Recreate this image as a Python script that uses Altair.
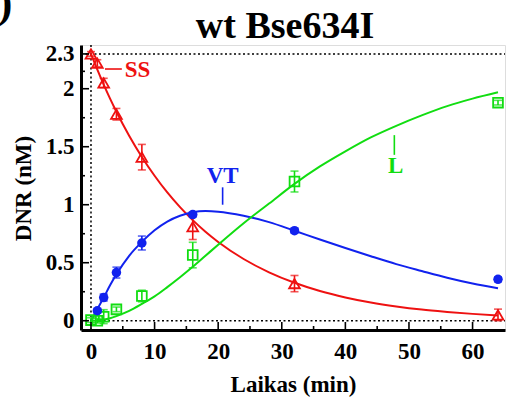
import altair as alt
import pandas as pd

# ---- data ----
curve_t = [0, 1, 2, 3, 4, 6, 8, 10, 12, 14, 16, 18, 20, 24, 28, 32, 36, 40, 44, 48, 52, 56, 60, 64]
ss_curve = [2.3, 2.164, 2.036, 1.915, 1.802, 1.595, 1.412, 1.25, 1.106, 0.979, 0.867, 0.767, 0.679,
            0.532, 0.417, 0.327, 0.256, 0.201, 0.157, 0.123, 0.096, 0.076, 0.059, 0.046]
vt_curve = [0.0, 0.1, 0.2, 0.305, 0.4, 0.56, 0.68, 0.78, 0.855, 0.905, 0.935, 0.945, 0.94,
            0.905, 0.85, 0.776, 0.70, 0.627, 0.556, 0.488, 0.428, 0.37, 0.32, 0.279]
l_curve = [0.0, 0.003, 0.01, 0.022, 0.04, 0.085, 0.145, 0.21, 0.29, 0.375, 0.465, 0.56, 0.655,
           0.84, 1.01, 1.18, 1.33, 1.46, 1.58, 1.68, 1.77, 1.85, 1.915, 1.97]

ss_t = [0, 1, 2, 4, 8, 16, 32, 64]
ss_val = [2.3, 2.22, 2.05, 1.78, 1.41, 0.81, 0.32, 0.05]
ss_err = [0.02, 0.03, 0.04, 0.05, 0.11, 0.11, 0.07, 0.05]

vt_t = [1, 2, 4, 8, 16, 32, 64]
vt_val = [0.086, 0.2, 0.415, 0.67, 0.915, 0.776, 0.357]
vt_err = [0.02, 0.03, 0.047, 0.06, 0.02, 0.02, 0.02]

l_t = [0, 1, 2, 4, 8, 16, 32, 64]
l_val = [0.005, 0.0, 0.035, 0.098, 0.213, 0.566, 1.2, 1.88]
l_err = [0.02, 0.02, 0.06, 0.02, 0.05, 0.11, 0.09, 0.02]

x_major = [0, 10, 20, 30, 40, 50, 60]
x_minor = [5, 15, 25, 35, 45, 55]
y_major = [0, 0.5, 1, 1.5, 2, 2.3]
y_minor = [0.25, 0.75, 1.25, 1.75, 2.15]

title_text = "wt Bse634I"
labels = ["SS", "VT", "L"]
label_t = [5.3, 20.7, 47.9]
label_v = [2.17, 1.185, 1.27]
mark_t = [2.2, 20.7, 47.7]
mark_t2 = [4.85, 20.7, 47.7]
mark_v = [2.17, 1.0, 1.43]
mark_v2 = [2.17, 1.15, 1.6]

RED, BLUE, GREEN = "#ee1111", "#1122ee", "#11dd11"
colors = {"SS": RED, "VT": BLUE, "L": GREEN}
FONT = "Liberation Serif"

XD = [-1.57, 65.1]
YD = [-0.08, 2.377]
xs = alt.Scale(domain=XD, nice=False, zero=False)
ys = alt.Scale(domain=YD, nice=False, zero=False)

W, H = 424, 285

curves = pd.DataFrame({
    "t": curve_t * 3,
    "v": ss_curve + vt_curve + l_curve,
    "s": ["SS"] * len(curve_t) + ["VT"] * len(curve_t) + ["L"] * len(curve_t),
})


def pts(t, v, e, s):
    return pd.DataFrame({"t": t, "v": v, "lo": [a - b for a, b in zip(v, e)],
                         "hi": [a + b for a, b in zip(v, e)], "s": s})


ss_df = pts(ss_t, ss_val, ss_err, "SS")
vt_df = pts(vt_t, vt_val, vt_err, "VT")
l_df = pts(l_t, l_val, l_err, "L")

X = alt.X("t:Q", scale=xs, axis=alt.Axis(values=x_major, ticks=False, grid=False, format="d",
                                          labelFont=FONT, labelFontWeight="bold", labelFontSize=23,
                                          labelColor="black", labelPadding=10,
                                          domainColor="black", domainWidth=3,
                                          title="Laikas (min)", titleFont=FONT, titleFontWeight="bold",
                                          titleFontSize=23, titleColor="black", titleBaseline="alphabetic",
                                          titleX=212, titleY=61, titleAnchor="middle"))
Y = alt.Y("v:Q", scale=ys, axis=alt.Axis(values=y_major, ticks=False, grid=False, format="~g",
                                          labelFont=FONT, labelFontWeight="bold", labelFontSize=23,
                                          labelColor="black", labelPadding=7,
                                          domainColor="black", domainWidth=3,
                                          title="DNR (nM)", titleFont=FONT, titleFontWeight="bold",
                                          titleFontSize=23, titleColor="black", titleBaseline="alphabetic",
                                          titleX=-51, titleY=143, titleAngle=-90, titleAnchor="middle"))

# dotted reference lines
hdots = alt.Chart(pd.DataFrame({"v": [0, 2.3]})).mark_rule(
    color="black", strokeDash=[2, 2.5], strokeWidth=1.5).encode(
    y=alt.Y("v:Q", scale=ys), x=alt.value(0), x2=alt.value(W))
vdots = alt.Chart(pd.DataFrame({"t": [0]})).mark_rule(
    color="black", strokeDash=[2, 2.5], strokeWidth=1.5).encode(
    x=alt.X("t:Q", scale=xs), y=alt.value(0), y2=alt.value(H))

color_enc = alt.Color("s:N", scale=alt.Scale(domain=list(colors), range=list(colors.values())), legend=None)

lines = alt.Chart(curves).mark_line(strokeWidth=2, interpolate="monotone").encode(
    x=X, y=Y, color=color_enc, detail="s:N")


def errbars(df, col):
    rule = alt.Chart(df).mark_rule(color=col, strokeWidth=1.6).encode(
        x=alt.X("t:Q", scale=xs), y=alt.Y("lo:Q", scale=ys), y2="hi:Q")
    cap_lo = alt.Chart(df).mark_tick(color=col, orient="horizontal", size=8, thickness=1.6).encode(
        x=alt.X("t:Q", scale=xs), y=alt.Y("lo:Q", scale=ys))
    cap_hi = alt.Chart(df).mark_tick(color=col, orient="horizontal", size=8, thickness=1.6).encode(
        x=alt.X("t:Q", scale=xs), y=alt.Y("hi:Q", scale=ys))
    return rule + cap_lo + cap_hi


ss_pts = alt.Chart(ss_df).mark_point(shape="triangle-up", filled=False, size=115, strokeWidth=1.8,
                                     color=RED, opacity=1).encode(
    x=alt.X("t:Q", scale=xs), y=alt.Y("v:Q", scale=ys))
l_pts = alt.Chart(l_df).mark_point(shape="square", filled=False, size=95, strokeWidth=1.8,
                                   color=GREEN, opacity=1).encode(
    x=alt.X("t:Q", scale=xs), y=alt.Y("v:Q", scale=ys))
vt_pts = alt.Chart(vt_df).mark_point(shape="circle", filled=True, size=90, color=BLUE, opacity=1).encode(
    x=alt.X("t:Q", scale=xs), y=alt.Y("v:Q", scale=ys))

lab_df = pd.DataFrame({"s": labels, "t": label_t, "v": label_v,
                       "mt": mark_t, "mt2": mark_t2, "mv": mark_v, "mv2": mark_v2})
ss_text = alt.Chart(lab_df[lab_df.s == "SS"]).mark_text(
    font=FONT, fontWeight="bold", fontSize=23, align="left", baseline="middle", dy=1).encode(
    x=alt.X("t:Q", scale=xs), y=alt.Y("v:Q", scale=ys), text="s:N", color=color_enc)
other_text = alt.Chart(lab_df[lab_df.s != "SS"]).mark_text(
    font=FONT, fontWeight="bold", fontSize=23, align="center", baseline="alphabetic").encode(
    x=alt.X("t:Q", scale=xs), y=alt.Y("v:Q", scale=ys), text="s:N", color=color_enc)
lab_lines = alt.Chart(lab_df).mark_rule(strokeWidth=1.6).encode(
    x=alt.X("mt:Q", scale=xs), x2="mt2:Q", y=alt.Y("mv:Q", scale=ys), y2="mv2:Q", color=color_enc)

# inward tick marks
xmaj = alt.Chart(pd.DataFrame({"t": x_major})).mark_rule(color="black", strokeWidth=1.6).encode(
    x=alt.X("t:Q", scale=xs), y=alt.value(H), y2=alt.value(H - 8))
xmin = alt.Chart(pd.DataFrame({"t": x_minor})).mark_rule(color="black", strokeWidth=1.6).encode(
    x=alt.X("t:Q", scale=xs), y=alt.value(H), y2=alt.value(H - 4))
ymaj = alt.Chart(pd.DataFrame({"v": y_major})).mark_rule(color="black", strokeWidth=1.6).encode(
    y=alt.Y("v:Q", scale=ys), x=alt.value(0), x2=alt.value(8))
ymin = alt.Chart(pd.DataFrame({"v": y_minor})).mark_rule(color="black", strokeWidth=1.6).encode(
    y=alt.Y("v:Q", scale=ys), x=alt.value(0), x2=alt.value(4))

# chart title as a text mark placed above the frame
title = alt.Chart(pd.DataFrame({"c": [title_text]})).mark_text(
    font=FONT, fontWeight="bold", fontSize=38, align="center", baseline="alphabetic", color="black").encode(
    text="c:N", x=alt.value(204), y=alt.value(-7))

# cropped panel letter at the top-left corner
corner = alt.Chart(pd.DataFrame({"c": [")"]})).mark_text(
    font=FONT, fontWeight="bold", fontSize=44, align="center", baseline="alphabetic", color="black").encode(
    text="c:N", x=alt.value(-76), y=alt.value(-28))

chart = alt.layer(
    hdots, vdots, lines,
    errbars(ss_df, RED), errbars(l_df, GREEN), errbars(vt_df, BLUE),
    ss_pts, l_pts, vt_pts,
    lab_lines, ss_text, other_text,
    xmaj, xmin, ymaj, ymin, title, corner,
).properties(
    width=W, height=H,
    autosize=alt.AutoSizeParams(type="none"),
    padding={"left": 81, "top": 45, "right": 1, "bottom": 68},
).configure_view(stroke="black", strokeWidth=2).configure(background="white")

chart.save("out.html", embed_options={"renderer": "svg", "actions": False})
